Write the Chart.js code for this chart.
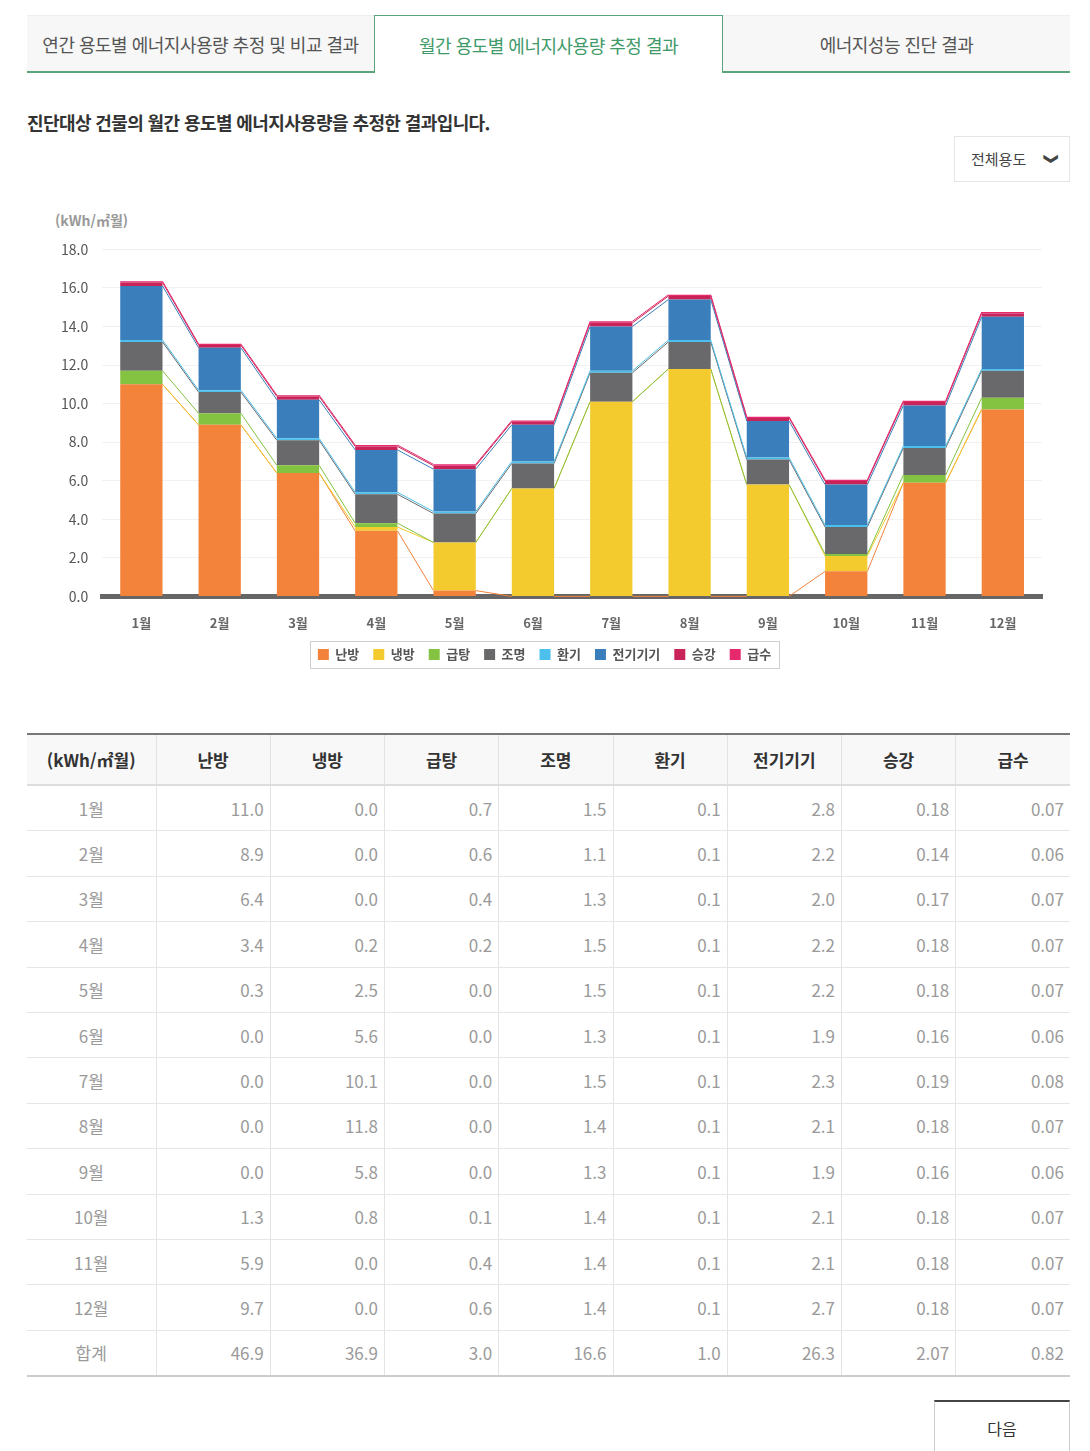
<!DOCTYPE html>
<html lang="ko">
<head>
<meta charset="utf-8">
<script src="https://cdn.jsdelivr.net/npm/chart.js@4.4.0/dist/chart.umd.min.js"></script>
<style>
  body { margin: 0; background: #fff; font-family: "Noto Sans CJK KR", "Noto Sans", sans-serif; color: #333; }
  .page { position: relative; width: 1090px; height: 1451px; overflow: hidden; }
  .tabs { position: absolute; left: 27px; top: 15px; width: 1043px; height: 58px; display: flex; }
  .tab { flex: 1; box-sizing: border-box; background: #f7f7f7; border-top: 1px solid #eee; border-bottom: 2px solid #5ba47c;
         display: flex; align-items: center; justify-content: center; font-size: 18px; color: #555; letter-spacing: -0.5px; }
  .tab.on { background: #fff; color: #3f9a6a; border: 1px solid #5ba47c; border-bottom: none; }
  h3 { position: absolute; left: 27px; top: 109px; margin: 0; font-size: 18px; font-weight: bold; color: #333; letter-spacing: -0.6px; }
  .sel { position: absolute; left: 954px; top: 136px; width: 116px; height: 46px; box-sizing: border-box; border: 1px solid #e5e5e5;
         font-size: 15px; color: #444; line-height: 44px; padding-left: 16px; }
  .sel span { position: absolute; right: 10px; top: 0; font-size: 14px; font-weight: bold; transform: rotate(90deg); }
  .unit { position: absolute; left: 55px; top: 210px; font-size: 14px; font-weight: bold; color: #999; }
  .chartBox { position: absolute; left: 27px; top: 227px; width: 1043px; height: 450px; }
  table { position: absolute; left: 27px; top: 733px; width: 1043px; border-collapse: collapse; table-layout: fixed;
          border-top: 2px solid #777; border-bottom: 2px solid #ccc; }
  th { height: 49px; padding: 0; background: #f8f8f8; font-size: 17px; color: #333; border-left: 1px solid #e3e3e3; border-bottom: 2px solid #ddd; }
  td { height: 44.4px; padding: 0 6px 0 0; font-size: 17px; color: #9a9a9a; text-align: right; border-left: 1px solid #e3e3e3; border-bottom: 1px solid #e6e6e6; }
  th:first-child, td:first-child { border-left: none; }
  td:first-child { text-align: center; padding-right: 0; }
  .btn { position: absolute; left: 934px; top: 1400px; width: 136px; height: 60px; box-sizing: border-box; border: 1px solid #ccc;
         border-top: 2px solid #444; text-align: center; font-size: 16px; color: #333; padding-top: 14px; }
</style>
</head>
<body>
<div class="page">
  <div class="tabs">
    <div class="tab">연간 용도별 에너지사용량 추정 및 비교 결과</div>
    <div class="tab on">월간 용도별 에너지사용량 추정 결과</div>
    <div class="tab">에너지성능 진단 결과</div>
  </div>
  <h3>진단대상 건물의 월간 용도별 에너지사용량을 추정한 결과입니다.</h3>
  <div class="sel">전체용도<span>&#10095;</span></div>
  <div class="unit">(kWh/㎡월)</div>
  <div class="chartBox"><canvas id="chart" width="1043" height="450"></canvas></div>
  <table id="tbl"></table>
  <div class="btn">다음</div>
</div>

<script>
// months
let months = ['1월', '2월', '3월', '4월', '5월', '6월', '7월', '8월', '9월', '10월', '11월', '12월'];

// series (kWh/㎡월)
let heating     = [11.0, 8.9, 6.4, 3.4, 0.3, 0.0, 0.0, 0.0, 0.0, 1.3, 5.9, 9.7];
let cooling     = [0.0, 0.0, 0.0, 0.2, 2.5, 5.6, 10.1, 11.8, 5.8, 0.8, 0.0, 0.0];
let hotWater    = [0.7, 0.6, 0.4, 0.2, 0.0, 0.0, 0.0, 0.0, 0.0, 0.1, 0.4, 0.6];
let lighting    = [1.5, 1.1, 1.3, 1.5, 1.5, 1.3, 1.5, 1.4, 1.3, 1.4, 1.4, 1.4];
let ventilation = [0.1, 0.1, 0.1, 0.1, 0.1, 0.1, 0.1, 0.1, 0.1, 0.1, 0.1, 0.1];
let appliances  = [2.8, 2.2, 2.0, 2.2, 2.2, 1.9, 2.3, 2.1, 1.9, 2.1, 2.1, 2.7];
let elevator    = [0.18, 0.14, 0.17, 0.18, 0.18, 0.16, 0.19, 0.18, 0.16, 0.18, 0.18, 0.18];
let waterSupply = [0.07, 0.06, 0.07, 0.07, 0.07, 0.06, 0.08, 0.07, 0.06, 0.07, 0.07, 0.07];

// 합계 row as printed
let totals = [46.9, 36.9, 3.0, 16.6, 1.0, 26.3, 2.07, 0.82];

let names  = ['난방', '냉방', '급탕', '조명', '환기', '전기기기', '승강', '급수'];
let colors = ['#f3823b', '#f4cb2f', '#83c341', '#69696b', '#4dbfec', '#3a7fbc', '#c8245a', '#e6296d'];
let series = [heating, cooling, hotWater, lighting, ventilation, appliances, elevator, waterSupply];
let yTicks = [0, 2, 4, 6, 8, 10, 12, 14, 16, 18];

// lines linking the top of each segment to the same segment in the next bar
let linkLines = {
    id: 'linkLines',
    beforeDatasetsDraw(chart) {
        let ctx = chart.ctx;
        ctx.save();
        ctx.lineWidth = 1;
        for (let d = 0; d < chart.data.datasets.length; d++) {
            let bars = chart.getDatasetMeta(d).data;
            ctx.strokeStyle = chart.data.datasets[d].backgroundColor;
            for (let i = 0; i < bars.length - 1; i++) {
                let a = bars[i], b = bars[i + 1];
                ctx.beginPath();
                ctx.moveTo(a.x + a.width / 2, a.y);
                ctx.lineTo(b.x - b.width / 2, b.y);
                ctx.stroke();
            }
        }
        ctx.restore();
    }
};

// frame around the legend
let legendFrame = {
    id: 'legendFrame',
    afterDraw(chart) {
        let boxes = chart.legend.legendHitBoxes;
        if (!boxes || !boxes.length) return;
        let l = Math.min(...boxes.map(b => b.left)) - 8;
        let r = Math.max(...boxes.map(b => b.left + b.width)) + 8;
        let t = Math.min(...boxes.map(b => b.top)) - 7;
        let btm = Math.max(...boxes.map(b => b.top + b.height)) + 7;
        let ctx = chart.ctx;
        ctx.save();
        ctx.strokeStyle = '#cfcfcf';
        ctx.lineWidth = 1;
        ctx.strokeRect(Math.round(l) + 0.5, Math.round(t) + 0.5, Math.round(r - l), Math.round(btm - t));
        ctx.restore();
    }
};

new Chart(document.getElementById('chart'), {
    type: 'bar',
    data: {
        labels: months,
        datasets: series.map((s, i) => ({
            label: names[i],
            data: s,
            backgroundColor: colors[i],
            borderWidth: 0,
            categoryPercentage: 0.54,
            barPercentage: 1
        }))
    },
    options: {
        responsive: false,
        animation: false,
        devicePixelRatio: 1,
        layout: { padding: { top: 0, left: 20, right: 28, bottom: 6 } },
        plugins: {
            tooltip: { enabled: false },
            legend: {
                position: 'bottom',
                labels: {
                    boxWidth: 11,
                    boxHeight: 11,
                    padding: 14,
                    color: '#555',
                    font: { family: 'Noto Sans CJK KR', size: 13, weight: 'bold' }
                }
            }
        },
        scales: {
            x: {
                stacked: true,
                z: 1,
                grid: { display: false },
                border: { display: true, color: '#666', width: 5 },
                afterFit: axis => { axis.height -= 8; },
                ticks: { color: '#666', padding: 11, maxRotation: 0, autoSkip: false, font: { family: 'Noto Sans CJK KR', size: 13, weight: 'bold' } }
            },
            y: {
                stacked: true,
                min: 0,
                max: 18,
                afterBuildTicks: axis => { axis.ticks = yTicks.map(v => ({ value: v })); },
                grid: { color: '#f1f1f1', drawTicks: false },
                border: { display: false },
                ticks: {
                    color: '#555',
                    padding: 14,
                    font: { family: 'Noto Sans CJK KR', size: 14 },
                    callback: v => v.toFixed(1)
                }
            }
        }
    },
    plugins: [linkLines, legendFrame]
});

// data table
let tbl = document.getElementById('tbl');
let html = '<colgroup><col style="width:129px">' + names.map(() => '<col>').join('') + '</colgroup>';
html += '<tr><th>(kWh/㎡월)</th>' + names.map(n => '<th>' + n + '</th>').join('') + '</tr>';
let fmt = (v, c) => v.toFixed(c >= 6 ? 2 : 1);
for (let i = 0; i < months.length; i++) {
    html += '<tr><td>' + months[i] + '</td>' + series.map((s, c) => '<td>' + fmt(s[i], c) + '</td>').join('') + '</tr>';
}
html += '<tr><td>합계</td>' + totals.map((v, c) => '<td>' + fmt(v, c) + '</td>').join('') + '</tr>';
tbl.innerHTML = html;
</script>
</body>
</html>
